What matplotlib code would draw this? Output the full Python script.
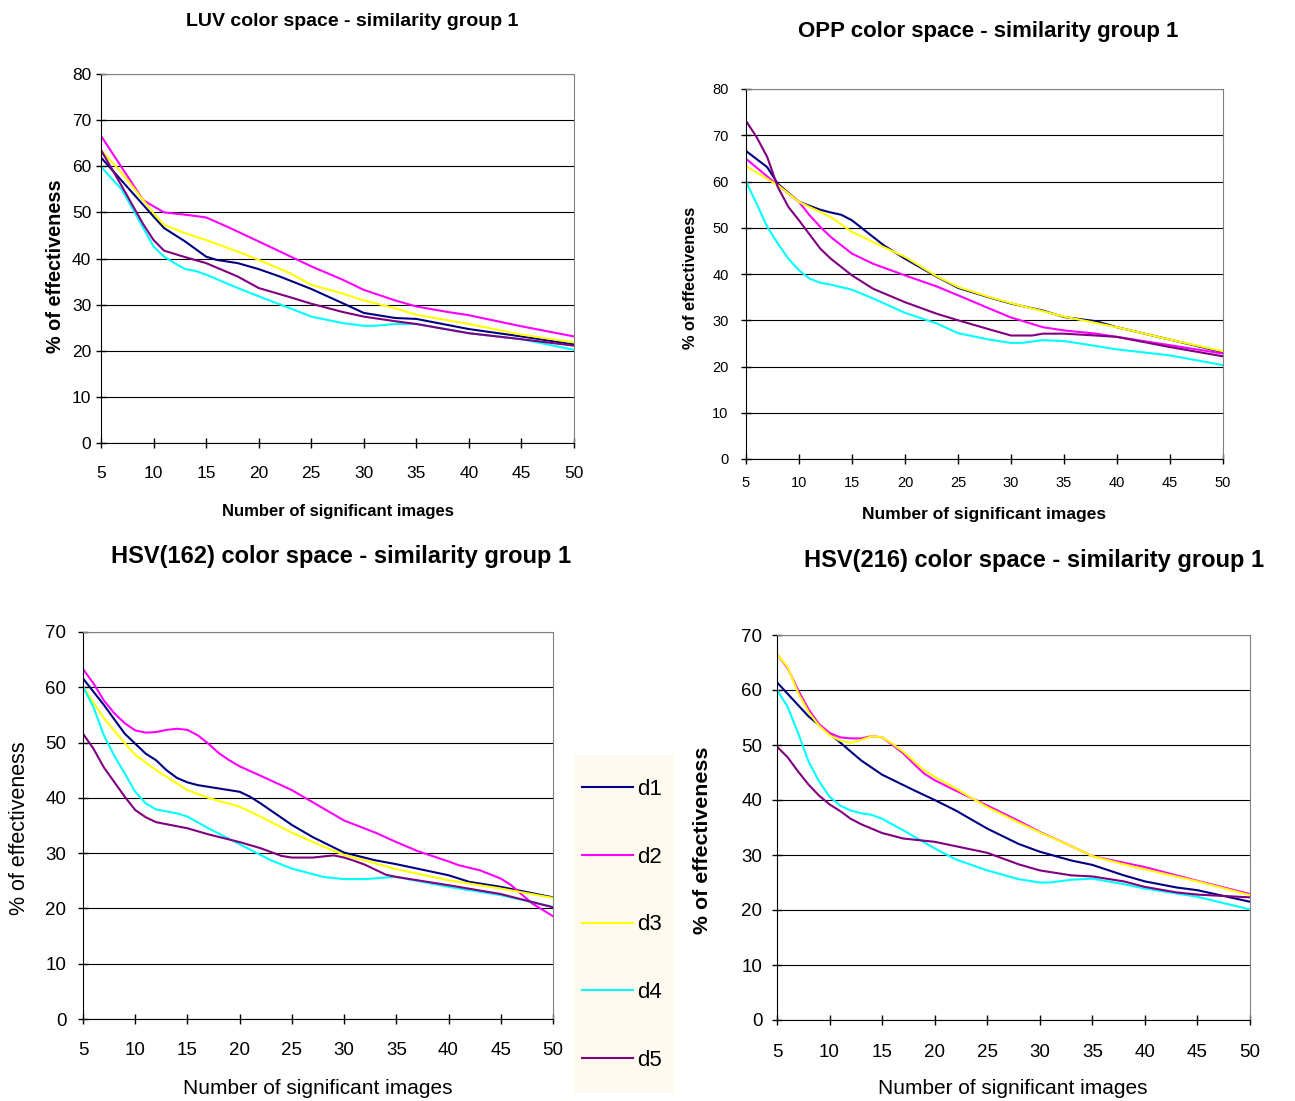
import matplotlib
matplotlib.use('Agg')
from matplotlib import pyplot as plt
from matplotlib.patches import Rectangle

# series names and colours (Excel default palette)
names = ['d1', 'd2', 'd3', 'd4', 'd5']
colors = ['#000080', '#FF00FF', '#FFFF00', '#00FFFF', '#800080']

# ---- LUV ----
luv_d1_x = [5, 10, 11, 13, 15, 16, 18, 20, 22, 25, 28, 30, 33, 35, 40, 45, 50]
luv_d1 = [61.9, 49.1, 46.6, 43.7, 40.4, 39.7, 39.0, 37.7, 36.1, 33.4, 30.3, 28.2, 27.1, 26.9, 24.7, 23.1, 21.4]
luv_d2_x = [5, 9, 10, 11, 13, 15, 17, 20, 25, 28, 30, 33, 35, 38, 40, 45, 50]
luv_d2 = [66.6, 52.7, 51.3, 50.0, 49.5, 48.9, 46.9, 43.7, 38.3, 35.4, 33.2, 30.9, 29.6, 28.4, 27.7, 25.3, 23.1]
luv_d3_x = [5, 7, 10, 11, 13, 15, 18, 20, 23, 25, 28, 30, 33, 35, 40, 45, 50]
luv_d3 = [63.5, 58.5, 49.8, 47.3, 45.5, 44.0, 41.5, 39.7, 36.8, 34.3, 32.4, 30.9, 29.2, 27.8, 25.8, 23.5, 21.8]
luv_d4_x = [5, 7, 10, 11, 12, 13, 14, 15, 18, 20, 23, 25, 28, 30, 31, 33, 35, 40, 45, 50]
luv_d4 = [59.9, 54.9, 42.6, 40.4, 39.0, 37.7, 37.3, 36.5, 33.6, 31.8, 29.2, 27.4, 26.0, 25.4, 25.4, 25.8, 25.8, 23.8, 22.5, 20.2]
luv_d5_x = [5, 7, 9, 10, 11, 13, 15, 18, 20, 23, 25, 28, 30, 33, 35, 40, 45, 50]
luv_d5 = [63.5, 55.6, 47.5, 44.0, 41.7, 40.3, 39.0, 36.1, 33.6, 31.6, 30.2, 28.4, 27.4, 26.4, 25.8, 23.8, 22.5, 21.1]

# ---- OPP ----
opp_d1_x = [5, 7, 8, 10, 12, 13, 14, 15, 16, 18, 20, 23, 25, 28, 30, 33, 35, 38, 40, 45, 50]
opp_d1 = [66.6, 63.1, 59.5, 55.6, 53.9, 53.3, 52.8, 51.6, 49.8, 46.2, 43.3, 39.4, 37.0, 34.9, 33.6, 32.1, 30.7, 29.8, 28.5, 25.8, 23.1]
opp_d2_x = [5, 8, 10, 11, 12, 13, 15, 17, 20, 23, 25, 28, 30, 33, 35, 38, 40, 45, 50]
opp_d2 = [64.9, 59.2, 55.6, 52.7, 50.2, 48.0, 44.4, 42.2, 39.7, 37.3, 35.4, 32.5, 30.6, 28.5, 27.8, 27.1, 26.4, 24.6, 22.8]
opp_d3_x = [5, 8, 10, 13, 15, 18, 20, 23, 25, 28, 30, 35, 40, 45, 50]
opp_d3 = [63.3, 59.2, 55.6, 52.3, 49.1, 45.8, 43.7, 39.5, 37.2, 35.0, 33.7, 30.8, 28.5, 25.8, 23.3]
opp_d4_x = [5, 6, 7, 8, 9, 10, 11, 12, 13, 15, 17, 20, 23, 25, 28, 30, 31, 33, 35, 37, 40, 45, 50]
opp_d4 = [60.0, 55.2, 50.2, 46.6, 43.3, 40.8, 39.0, 38.1, 37.7, 36.6, 34.7, 31.6, 29.3, 27.2, 25.8, 25.1, 25.1, 25.7, 25.5, 24.8, 23.7, 22.4, 20.3]
opp_d5_x = [5, 6, 7, 8, 9, 10, 12, 13, 15, 17, 20, 23, 25, 28, 30, 32, 33, 35, 38, 40, 45, 50]
opp_d5 = [73.1, 69.6, 65.3, 58.8, 54.5, 51.6, 45.5, 43.3, 39.7, 36.8, 33.9, 31.4, 30.0, 28.0, 26.7, 26.7, 27.1, 27.1, 26.7, 26.4, 24.2, 22.2]

# ---- HSV(162) ----
hsv1_d1_x = [5, 7, 9, 10, 11, 12, 13, 14, 15, 16, 18, 20, 21, 22, 24, 25, 27, 30, 33, 35, 38, 40, 42, 45, 50]
hsv1_d1 = [61.6, 56.8, 51.6, 49.8, 48.0, 46.8, 45.0, 43.6, 42.8, 42.3, 41.7, 41.1, 40.2, 39.0, 36.4, 35.1, 32.9, 30.1, 28.7, 28.0, 26.8, 26.0, 24.8, 23.9, 22.0]
hsv1_d2_x = [5, 6, 7, 8, 9, 10, 11, 12, 13, 14, 15, 16, 17, 18, 19, 20, 22, 25, 27, 30, 33, 35, 37, 40, 41, 43, 45, 46, 48, 50]
hsv1_d2 = [63.3, 60.7, 57.6, 55.3, 53.5, 52.2, 51.8, 51.9, 52.3, 52.5, 52.3, 51.3, 49.8, 48.1, 46.8, 45.7, 44.0, 41.4, 39.2, 35.9, 33.7, 32.0, 30.4, 28.5, 27.8, 26.9, 25.4, 24.2, 20.9, 18.6]
hsv1_d3_x = [5, 7, 9, 10, 12, 15, 17, 20, 22, 25, 28, 30, 35, 40, 45, 50]
hsv1_d3 = [60.1, 54.4, 49.9, 47.8, 45.0, 41.4, 40.0, 38.4, 36.6, 33.7, 31.2, 29.7, 27.1, 25.1, 23.6, 21.9]
hsv1_d4_x = [5, 6, 7, 8, 9, 10, 11, 12, 14, 15, 17, 20, 23, 25, 28, 30, 32, 34, 35, 40, 45, 50]
hsv1_d4 = [60.1, 56.4, 51.3, 47.6, 44.4, 41.1, 39.0, 37.9, 37.2, 36.6, 34.5, 31.6, 28.7, 27.2, 25.7, 25.3, 25.3, 25.6, 25.7, 23.9, 22.4, 20.3]
hsv1_d5_x = [5, 6, 7, 9, 10, 11, 12, 15, 17, 20, 22, 24, 25, 27, 29, 30, 31, 32, 34, 35, 40, 45, 50]
hsv1_d5 = [51.6, 48.9, 45.5, 40.2, 37.8, 36.5, 35.6, 34.5, 33.4, 32.0, 30.9, 29.5, 29.2, 29.2, 29.6, 29.2, 28.6, 27.9, 26.1, 25.7, 24.2, 22.6, 20.2]

# ---- HSV(216) ----
hsv2_d1_x = [5, 8, 10, 13, 15, 18, 20, 22, 25, 28, 30, 33, 35, 38, 40, 43, 45, 50]
hsv2_d1 = [61.4, 55.2, 52.1, 47.2, 44.6, 41.8, 40.0, 38.1, 34.8, 32.0, 30.6, 29.0, 28.2, 26.3, 25.2, 24.1, 23.6, 21.5]
hsv2_d2_x = [5, 6, 7, 8, 9, 10, 11, 12, 13, 14, 15, 16, 17, 18, 19, 20, 22, 25, 28, 30, 33, 35, 38, 40, 45, 50]
hsv2_d2 = [66.5, 64.0, 60.0, 56.5, 53.8, 52.2, 51.4, 51.2, 51.2, 51.6, 51.4, 50.0, 48.5, 46.6, 44.8, 43.6, 41.7, 39.0, 36.2, 34.2, 31.6, 29.8, 28.6, 27.8, 25.3, 22.9]
hsv2_d3_x = [5, 6, 7, 8, 9, 10, 11, 12, 13, 14, 15, 16, 17, 18, 19, 20, 22, 25, 28, 30, 33, 35, 38, 40, 45, 50]
hsv2_d3 = [66.5, 64.2, 59.5, 56.0, 53.5, 51.8, 50.8, 50.4, 50.9, 51.6, 51.4, 50.2, 48.8, 47.1, 45.4, 44.2, 42.1, 38.7, 35.9, 34.1, 31.6, 29.8, 28.3, 27.4, 25.2, 22.7]
hsv2_d4_x = [5, 6, 7, 8, 9, 10, 11, 12, 13, 14, 15, 17, 20, 22, 25, 28, 30, 31, 33, 35, 38, 40, 45, 50]
hsv2_d4 = [60.0, 57.0, 52.2, 47.0, 43.4, 40.6, 39.0, 38.1, 37.6, 37.3, 36.6, 34.5, 31.2, 29.2, 27.2, 25.6, 25.0, 25.0, 25.5, 25.7, 24.7, 23.9, 22.4, 20.1]
hsv2_d5_x = [5, 6, 7, 8, 9, 10, 11, 12, 13, 15, 17, 20, 22, 25, 28, 30, 33, 35, 38, 40, 43, 45, 50]
hsv2_d5 = [49.7, 47.8, 45.2, 42.8, 40.8, 39.2, 38.0, 36.6, 35.6, 34.0, 33.0, 32.4, 31.6, 30.4, 28.3, 27.2, 26.3, 26.1, 25.2, 24.2, 23.2, 22.8, 22.3]

xticks = [5, 10, 15, 20, 25, 30, 35, 40, 45, 50]

W, H = 1295, 1101
fig = plt.figure(figsize=(W / 100, H / 100), dpi=100)
plt.rcParams['font.family'] = ['Liberation Sans', 'DejaVu Sans']


def px_axes(left, top, right, bottom):
    return fig.add_axes([left / W, 1 - bottom / H, (right - left) / W, (bottom - top) / H])


def setup(ax, ymax, tsize, xpad, ypad):
    ax.set_xlim(5, 50)
    ax.set_ylim(0, ymax)
    ax.set_xticks(xticks)
    ax.set_yticks(range(0, ymax + 1, 10))
    ax.yaxis.grid(True, color='black', linewidth=0.8)
    ax.set_axisbelow(True)
    for s in ['top', 'right']:
        ax.spines[s].set_color('#808080')
    for s in ['left', 'bottom']:
        ax.spines[s].set_color('black')
    ax.tick_params(axis='x', direction='inout', length=7, width=1, labelsize=tsize, pad=xpad)
    ax.tick_params(axis='y', direction='inout', length=7, width=1, labelsize=tsize, pad=ypad)


panels = [
    (px_axes(101, 74, 574, 443), 80, 12.5, 13, 3.5,
     [(luv_d1_x, luv_d1), (luv_d2_x, luv_d2), (luv_d3_x, luv_d3), (luv_d4_x, luv_d4), (luv_d5_x, luv_d5)]),
    (px_axes(746, 89, 1223, 459), 80, 10.5, 9, 9,
     [(opp_d1_x, opp_d1), (opp_d2_x, opp_d2), (opp_d3_x, opp_d3), (opp_d4_x, opp_d4), (opp_d5_x, opp_d5)]),
    (px_axes(83, 632, 553, 1019), 70, 13.5, 13, 8.5,
     [(hsv1_d1_x, hsv1_d1), (hsv1_d2_x, hsv1_d2), (hsv1_d3_x, hsv1_d3), (hsv1_d4_x, hsv1_d4), (hsv1_d5_x, hsv1_d5)]),
    (px_axes(777, 635, 1250, 1020), 70, 13.5, 13.5, 7,
     [(hsv2_d1_x, hsv2_d1), (hsv2_d2_x, hsv2_d2), (hsv2_d3_x, hsv2_d3), (hsv2_d4_x, hsv2_d4), (hsv2_d5_x, hsv2_d5)]),
]

handles = []
for i, (ax, ymax, tsize, xpad, ypad, series) in enumerate(panels):
    setup(ax, ymax, tsize, xpad, ypad)
    for (x, y), c, n in zip(series, colors, names):
        line, = ax.plot(x, y, color=c, linewidth=1.5, label=n)
        if i == 2:
            handles.append(line)

# titles
fig.text(352 / W, 1 - 22 / H, 'LUV color space - similarity group 1', ha='center', va='center',
         fontsize=14, fontweight='bold')
fig.text(988 / W, 1 - 31 / H, 'OPP color space - similarity group 1', ha='center', va='center',
         fontsize=16, fontweight='bold')
fig.text(341 / W, 1 - 556 / H, 'HSV(162) color space - similarity group 1', ha='center', va='center',
         fontsize=17, fontweight='bold')
fig.text(1034 / W, 1 - 560 / H, 'HSV(216) color space - similarity group 1', ha='center', va='center',
         fontsize=17, fontweight='bold')

# x labels
fig.text(338 / W, 1 - 511 / H, 'Number of significant images', ha='center', va='center',
         fontsize=12, fontweight='bold')
fig.text(984 / W, 1 - 514 / H, 'Number of significant images', ha='center', va='center',
         fontsize=12.5, fontweight='bold')
fig.text(318 / W, 1 - 1088 / H, 'Number of significant images', ha='center', va='center', fontsize=15)
fig.text(1013 / W, 1 - 1089 / H, 'Number of significant images', ha='center', va='center', fontsize=15)

# y labels
fig.text(56 / W, 1 - 266 / H, '% of effectiveness', ha='center', va='center', rotation=90,
         fontsize=14.3, fontweight='bold')
fig.text(690 / W, 1 - 278 / H, '% of effectiveness', ha='center', va='center', rotation=90,
         fontsize=11.8, fontweight='bold')
fig.text(20 / W, 1 - 828 / H, '% of effectiveness', ha='center', va='center', rotation=90, fontsize=15.5)
fig.text(703 / W, 1 - 840 / H, '% of effectiveness', ha='center', va='center', rotation=90,
         fontsize=15.4, fontweight='bold')

# legend box
fig.patches.append(Rectangle((574 / W, 1 - 1093 / H), 100 / W, 338 / H, transform=fig.transFigure,
                             facecolor='#FEFAF0', edgecolor='none', zorder=0))
fig.legend(handles, names, loc='upper left', bbox_to_anchor=(582 / W, 1 - 779 / H),
           frameon=False, fontsize=16, labelspacing=2.1, handlelength=2.3, handletextpad=0.2,
           borderpad=0, borderaxespad=0)

fig.savefig('out.png', dpi=100)
